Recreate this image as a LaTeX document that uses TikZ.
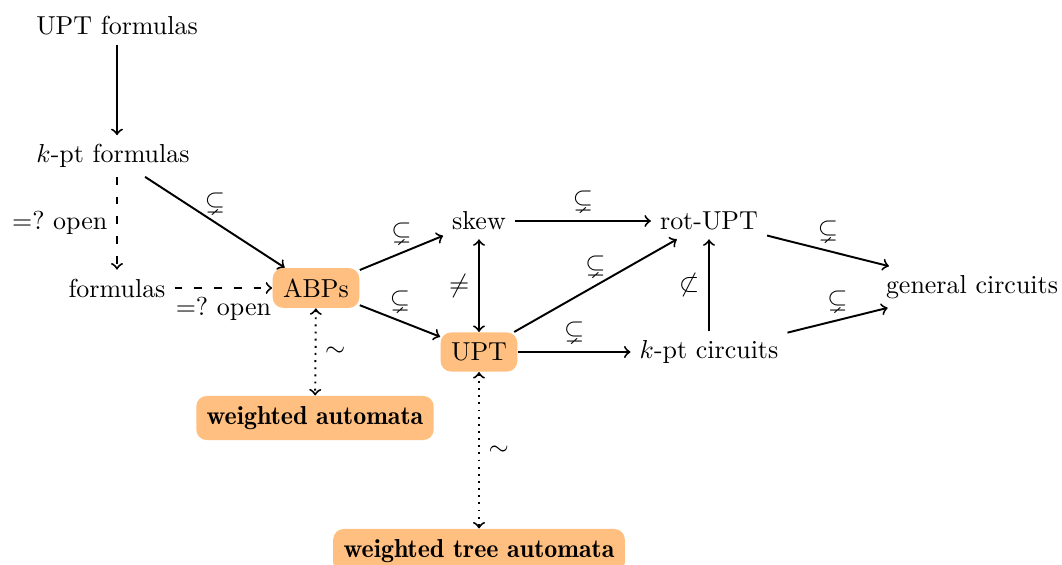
\documentclass[tikz,border=0pt]{standalone}
\usepackage{amssymb}
\usetikzlibrary{arrows}
\begin{document}
\begin{tikzpicture}[x=0.385pt,y=-0.385pt,
  every node/.style={font=\normalsize},
  plain/.style={inner sep=3.33pt},
  hl/.style={fill=orange!50, rounded corners=4pt, inner sep=4pt},
  hlb/.style={hl, font=\fontseries{b}\selectfont},
  arr/.style={->, line width=0.75pt},
  darr/.style={->, line width=0.75pt, dash pattern=on 3pt off 4.6pt},
  oarr/.style={<->, line width=0.75pt, dotted},
  lab/.style={inner sep=3.33pt}
]
\useasboundingbox (0,0) rectangle (1062,565);

% nodes
\node[plain] (uptf)  at (117,26)  {UPT formulas};
\node[plain] (kptf)  at (113,156) {$k$-pt formulas};
\node[plain] (form)  at (117,288) {formulas};
\node[hl]    (abps)  at (316,288) {ABPs};
\node[plain] (skew)  at (479,221) {skew};
\node[hl]    (upt)   at (479,352) {UPT};
\node[plain] (rot)   at (709,221) {rot-UPT};
\node[plain] (kptc)  at (709,352) {$k$-pt circuits};
\node[plain] (gen)   at (972,287) {general circuits};
\node[hlb]   (wa)    at (315,418) {weighted automata};
\node[hlb]   (wta)   at (479,551) {weighted tree automata};

% formulas side
\draw[arr] (uptf) -- (uptf |- kptf.north);
\draw[darr] (form |- kptf.south) -- node[lab,left] {$=?$ open} (form);
\draw[darr] (form) -- node[lab,below] {$=?$ open} (abps);
\draw[arr] (kptf) -- node[lab,above] {$\subsetneq$} (abps);

% ABPs and UPT
\draw[arr] (abps) -- node[lab,above] {$\subsetneq$} (skew);
\draw[arr] (abps) -- node[lab,above] {$\subsetneq$} (upt);
\draw[arr,<->] (skew) -- node[lab,left] {$\neq$} (upt);

% circuits
\draw[arr] (skew) -- node[lab,above] {$\subsetneq$} (rot);
\draw[arr] (upt) -- node[lab,above] {$\subsetneq$} (rot);
\draw[arr] (upt) -- node[lab,above] {$\subsetneq$} (kptc);
\draw[arr] (kptc) -- node[lab,left] {$\not\subset$} (rot);
\draw[arr] (rot) -- node[lab,above] {$\subsetneq$} (gen);
\draw[arr] (kptc) -- node[lab,above] {$\subsetneq$} (gen);

% automata correspondences
\draw[oarr] (abps) -- node[lab,right] {$\sim$} (wa);
\draw[oarr] (upt) -- node[lab,right] {$\sim$} (wta);
\end{tikzpicture}
\end{document}
